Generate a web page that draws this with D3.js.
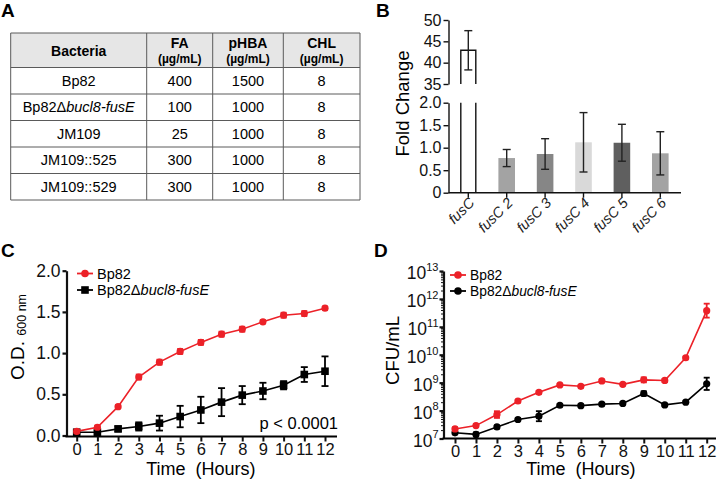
<!DOCTYPE html>
<html>
<head>
<meta charset="utf-8">
<script src="https://cdn.jsdelivr.net/npm/d3@7"></script>
<style>
body { margin: 0; background: #fff; }
svg { font-family: Arial, "Liberation Sans", Helvetica, sans-serif; }
</style>
</head>
<body>
<svg id="fig" width="717" height="483"></svg>
<script>
// ---- panel A: MIC table ----
const tableCols = ["Bacteria", "FA", "pHBA", "CHL"];
const strains = ["Bp82", "Bp82Δbucl8-fusE", "JM109", "JM109::525", "JM109::529"];
const faMIC = [400, 100, 25, 300, 300];
const phbaMIC = [1500, 1000, 1000, 1000, 1000];
const chlMIC = [8, 8, 8, 8, 8];

// ---- panel B: qRT-PCR fold change ----
const genes = ["fusC", "fusC 2", "fusC 3", "fusC 4", "fusC 5", "fusC 6"];
const foldChange = [42.9, 0.77, 0.86, 1.12, 1.11, 0.875];
const foldErr = [4.6, 0.19, 0.34, 0.66, 0.41, 0.48];

// ---- panel C/D: growth curves ----
const hours = [0, 1, 2, 3, 4, 5, 6, 7, 8, 9, 10, 11, 12];
const odWT = [0.05, 0.10, 0.35, 0.71, 0.89, 1.02, 1.13, 1.23, 1.29, 1.38, 1.46, 1.48, 1.545];
const odWTerr = [0.02, 0.02, 0.02, 0.03, 0.03, 0.03, 0.03, 0.03, 0.03, 0.02, 0.03, 0.03, 0.02];
const odMut = [0.04, 0.04, 0.08, 0.11, 0.15, 0.23, 0.31, 0.405, 0.49, 0.54, 0.61, 0.74, 0.78];
const odMutErr = [0.02, 0.02, 0.03, 0.05, 0.09, 0.13, 0.16, 0.17, 0.11, 0.10, 0.05, 0.09, 0.18];
const cfuWT = [2.2e7, 2.9e7, 7.2e7, 2.2e8, 4.5e8, 8.3e8, 7.4e8, 1.15e9, 8.7e8, 1.26e9, 1.2e9, 7.8e9, 3.8e11];
const cfuWTlogErr = [0.06, 0.04, 0.12, 0.05, 0.05, 0.04, 0.04, 0.05, 0.04, 0.09, 0.06, 0.04, 0.25];
const cfuMut = [1.6e7, 1.4e7, 2.6e7, 4.8e7, 6.3e7, 1.55e8, 1.5e8, 1.7e8, 1.8e8, 4.1e8, 1.6e8, 2.0e8, 9.1e8];
const cfuMutLogErr = [0.04, 0.07, 0.05, 0.04, 0.18, 0.04, 0.04, 0.04, 0.04, 0.08, 0.04, 0.03, 0.22];

const RED = "#ec2128";
const svg = d3.select("#fig");

function panelLetter(t, x, y) {
  svg.append("text").attr("x", x).attr("y", y)
    .attr("font-size", 19).attr("font-weight", "bold").text(t);
}
// Bp82Δbucl8-fusE with italic gene part
function mutantLabel(sel) {
  sel.append("tspan").text("Bp82Δ");
  sel.append("tspan").attr("font-style", "italic").text("bucl8-fusE");
}

// ================= A =================
panelLetter("A", 1, 17);
const colX = [10.7, 146.7, 212.7, 283.3, 360];
const headTop = 33, headBot = 67.5, rowH = 26.5;
const rowY = d3.scaleLinear().domain([0, strains.length]).range([headBot, headBot + rowH * strains.length]);
const gA = svg.append("g");
gA.append("rect").attr("x", colX[0]).attr("y", headTop)
  .attr("width", colX[4] - colX[0]).attr("height", headBot - headTop)
  .attr("fill", "#e6e6e6");
// horizontal rules
const hLines = [headTop].concat(d3.range(strains.length + 1).map(i => rowY(i)));
gA.selectAll(".hl").data(hLines).enter().append("line")
  .attr("x1", colX[0]).attr("x2", colX[4]).attr("y1", d => d).attr("y2", d => d)
  .attr("stroke", "#5a5a5a").attr("stroke-width", 1);
gA.selectAll(".vl").data(colX).enter().append("line")
  .attr("x1", d => d).attr("x2", d => d).attr("y1", headTop).attr("y2", rowY(strains.length))
  .attr("stroke", "#5a5a5a").attr("stroke-width", 1);
const colMid = i => (colX[i] + colX[i + 1]) / 2;
gA.append("text").attr("x", colMid(0)).attr("y", 55.5).attr("text-anchor", "middle")
  .attr("font-size", 14).attr("font-weight", "bold").text(tableCols[0]);
tableCols.slice(1).forEach((c, i) => {
  gA.append("text").attr("x", colMid(i + 1)).attr("y", 47.5).attr("text-anchor", "middle")
    .attr("font-size", 14).attr("font-weight", "bold").text(c);
  gA.append("text").attr("x", colMid(i + 1)).attr("y", 63).attr("text-anchor", "middle")
    .attr("font-size", 12).attr("font-weight", "bold").text("(µg/mL)");
});
strains.forEach((s, i) => {
  const y = rowY(i) + rowH / 2 + 5;
  const t = gA.append("text").attr("x", colMid(0)).attr("y", y).attr("text-anchor", "middle").attr("font-size", 14.5);
  if (s.indexOf("Δ") >= 0) mutantLabel(t); else t.text(s);
  [faMIC[i], phbaMIC[i], chlMIC[i]].forEach((v, j) => {
    gA.append("text").attr("x", colMid(j + 1)).attr("y", y).attr("text-anchor", "middle")
      .attr("font-size", 14.5).text(v);
  });
});

// ================= B =================
panelLetter("B", 376, 17);
const gB = svg.append("g");
const axB = 448.5;
const yUp = d3.scaleLinear().domain([35, 50]).range([84, 20]);
const yLo = d3.scaleLinear().domain([0, 2]).range([192.7, 102.7]);
const xB = d3.scalePoint().domain(genes).range([468.3, 660.3]);
const barW = 16.6;
const barFill = ["#ffffff", "#a3a3a3", "#868686", "#d9d9d9", "#5f5f5f", "#a3a3a3"];

function styleAxis(g, fs, sw) {
  g.selectAll("path,line").attr("stroke", "#111").attr("stroke-width", sw);
  g.selectAll("text").attr("font-size", fs).attr("fill", "#111")
    .attr("font-family", 'Arial, "Liberation Sans", Helvetica, sans-serif');
}
gB.append("g").attr("transform", `translate(${axB},0)`)
  .call(d3.axisLeft(yUp).tickValues([35, 40, 45, 50]).tickSize(5).tickSizeOuter(0).tickPadding(2))
  .call(g => styleAxis(g, 16, 1.4));
gB.append("g").attr("transform", `translate(${axB},0)`)
  .call(d3.axisLeft(yLo).tickValues([0, 0.5, 1, 1.5, 2]).tickSize(5).tickSizeOuter(0).tickPadding(2)
    .tickFormat(d => d === 0 ? "0" : d3.format(".1f")(d)))
  .call(g => styleAxis(g, 16, 1.4));
// x axis
gB.append("line").attr("x1", axB).attr("x2", 681).attr("y1", yLo(0)).attr("y2", yLo(0))
  .attr("stroke", "#111").attr("stroke-width", 1.4);
gB.selectAll(".xt").data(genes).enter().append("line")
  .attr("x1", d => xB(d)).attr("x2", d => xB(d)).attr("y1", yLo(0)).attr("y2", yLo(0) + 5)
  .attr("stroke", "#111").attr("stroke-width", 1.4);
gB.selectAll(".xl").data(genes).enter().append("text")
  .attr("transform", d => `translate(${xB(d) + 7},${yLo(0) + 11}) rotate(-45)`)
  .attr("text-anchor", "end").attr("font-size", 14.5).attr("font-style", "italic")
  .attr("fill", "#222").text(d => d);
gB.append("text").attr("transform", "translate(409,103.5) rotate(-90)")
  .attr("text-anchor", "middle").attr("font-size", 18.5).text("Fold Change");

genes.forEach((gname, i) => {
  const cx = xB(gname), v = foldChange[i], e = foldErr[i];
  if (v > 2) {
    // broken bar: sides in lower segment, top in upper segment
    const x0 = cx - barW / 2 + 0.8, x1 = cx + barW / 2 - 0.8;
    [x0, x1].forEach(x => gB.append("line").attr("x1", x).attr("x2", x)
      .attr("y1", yLo(0)).attr("y2", yLo(2)).attr("stroke", "#111").attr("stroke-width", 1.4));
    gB.append("path")
      .attr("d", `M${x0},${yUp(35)}V${yUp(v)}H${x1}V${yUp(35)}`)
      .attr("fill", "none").attr("stroke", "#111").attr("stroke-width", 1.4);
    gB.append("line").attr("x1", cx).attr("x2", cx).attr("y1", yUp(v - e)).attr("y2", yUp(v + e))
      .attr("stroke", "#222").attr("stroke-width", 1.4);
    [v - e, v + e].forEach(t => gB.append("line").attr("x1", cx - 4).attr("x2", cx + 4)
      .attr("y1", yUp(t)).attr("y2", yUp(t)).attr("stroke", "#222").attr("stroke-width", 1.4));
  } else {
    gB.append("rect").attr("x", cx - barW / 2).attr("y", yLo(v))
      .attr("width", barW).attr("height", yLo(0) - yLo(v) - 0.7).attr("fill", barFill[i]);
    gB.append("line").attr("x1", cx).attr("x2", cx).attr("y1", yLo(v - e)).attr("y2", yLo(v + e))
      .attr("stroke", "#222").attr("stroke-width", 1.4);
    [v - e, v + e].forEach(t => gB.append("line").attr("x1", cx - 4).attr("x2", cx + 4)
      .attr("y1", yLo(t)).attr("y2", yLo(t)).attr("stroke", "#222").attr("stroke-width", 1.4));
  }
});

// ================= growth panel helper =================
function errBars(g, x, y, xs, lo, hi, color, cap) {
  xs.forEach((h, i) => {
    g.append("line").attr("x1", x(h)).attr("x2", x(h)).attr("y1", y(lo[i])).attr("y2", y(hi[i]))
      .attr("stroke", color).attr("stroke-width", 1.8);
    [lo[i], hi[i]].forEach(t => g.append("line").attr("x1", x(h) - cap).attr("x2", x(h) + cap)
      .attr("y1", y(t)).attr("y2", y(t)).attr("stroke", color).attr("stroke-width", 1.8));
  });
}
function series(g, x, y, vals, color, shape) {
  g.append("path").datum(vals)
    .attr("d", d3.line().x((d, i) => x(hours[i])).y(d => y(d)))
    .attr("fill", "none").attr("stroke", color).attr("stroke-width", 1.6);
  if (shape === "square") {
    g.selectAll(null).data(vals).enter().append("rect")
      .attr("x", (d, i) => x(hours[i]) - 3.8).attr("y", d => y(d) - 3.8)
      .attr("width", 7.6).attr("height", 7.6).attr("fill", color);
  } else {
    g.selectAll(null).data(vals).enter().append("circle")
      .attr("cx", (d, i) => x(hours[i])).attr("cy", d => y(d)).attr("r", 3.6).attr("fill", color);
  }
}
function legend(g, x, y, color, shape, isMut, fs) {
  g.append("line").attr("x1", x).attr("x2", x + 16).attr("y1", y).attr("y2", y)
    .attr("stroke", color).attr("stroke-width", 1.8);
  if (shape === "square") g.append("rect").attr("x", x + 4.2).attr("y", y - 3.8).attr("width", 7.6).attr("height", 7.6).attr("fill", color);
  else g.append("circle").attr("cx", x + 8).attr("cy", y).attr("r", 3.8).attr("fill", color);
  const t = g.append("text").attr("x", x + 20).attr("y", y + 5).attr("font-size", fs);
  if (isMut) mutantLabel(t); else t.text("Bp82");
}
function timeAxis(g, x, axY, x0, x1) {
  g.append("line").attr("x1", x0).attr("x2", x1).attr("y1", axY).attr("y2", axY)
    .attr("stroke", "#000").attr("stroke-width", 2.2);
  g.append("g").attr("transform", `translate(0,${axY})`)
    .call(d3.axisBottom(x).tickValues(hours).tickSize(5).tickPadding(2).tickFormat(d3.format("d")))
    .call(a => a.select(".domain").remove())
    .call(a => styleAxis(a, 16.5, 2));
  g.append("text").attr("x", (x(0) + x(12)) / 2).attr("y", 475).attr("text-anchor", "middle")
    .attr("font-size", 18).text("Time\u00a0 (Hours)");
}

// ================= C =================
panelLetter("C", 1, 257);
const gC = svg.append("g");
const xC = d3.scaleLinear().domain([0, 12]).range([76.7, 325]);
const yC = d3.scaleLinear().domain([0, 2]).range([435.5, 270.7]);
const axCx = 66.5;
gC.append("g").attr("transform", `translate(${axCx},0)`)
  .call(d3.axisLeft(yC).tickValues([0, 0.5, 1, 1.5, 2]).tickSize(4).tickSizeOuter(0).tickPadding(2)
    .tickFormat(d3.format(".1f")))
  .call(g => styleAxis(g, 17.5, 2.2));
timeAxis(gC, xC, 436.5, axCx - 1, 337);
const odLab = gC.append("text").attr("transform", "translate(24,337) rotate(-90)")
  .attr("text-anchor", "middle");
odLab.append("tspan").attr("font-size", 19).text("O.D. ");
odLab.append("tspan").attr("font-size", 12.5).attr("dy", 2).text("600 nm");
errBars(gC, xC, yC, hours, odMut.map((v, i) => Math.max(0, v - odMutErr[i])), odMut.map((v, i) => v + odMutErr[i]), "#000", 3.5);
series(gC, xC, yC, odMut, "#000", "square");
errBars(gC, xC, yC, hours, odWT.map((v, i) => v - odWTerr[i]), odWT.map((v, i) => v + odWTerr[i]), RED, 3);
series(gC, xC, yC, odWT, RED, "circle");
legend(gC, 77, 273.5, RED, "circle", false, 14.5);
legend(gC, 77, 290, "#000", "square", true, 14.5);
gC.append("text").attr("x", 338).attr("y", 428.5).attr("text-anchor", "end")
  .attr("font-size", 16.5).text("p < 0.0001");

// ================= D =================
panelLetter("D", 374, 257);
const gD = svg.append("g");
const xD = d3.scaleLinear().domain([0, 12]).range([455, 706.7]);
const yD = d3.scaleLog().domain([1e7, 1e13]).range([438.5, 271]);
const axDx = 443.5;
const decades = [1e7, 1e8, 1e9, 1e10, 1e11, 1e12, 1e13];
const minorD = yD.ticks().filter(t => decades.indexOf(t) < 0);
gD.append("g").attr("transform", `translate(${axDx},0)`)
  .call(d3.axisLeft(yD).tickValues(minorD).tickSize(2.5).tickFormat(""))
  .call(g => { g.select(".domain").remove(); styleAxis(g, 17, 1); });
gD.append("g").attr("transform", `translate(${axDx},0)`)
  .call(d3.axisLeft(yD).tickValues(decades).tickSize(4).tickSizeOuter(0).tickPadding(1).tickFormat(""))
  .call(g => styleAxis(g, 17, 2.2))
  .call(g => g.selectAll(".tick text").each(function (d) {
    const t = d3.select(this).attr("dy", "0.45em");
    t.append("tspan").attr("font-size", 17.5).text("10");
    t.append("tspan").attr("font-size", 11).attr("dy", "-0.75em").text(Math.round(Math.log10(d)));
  }));
timeAxis(gD, xD, 438.5, axDx - 1, 716);
gD.append("text").attr("transform", "translate(399,350.5) rotate(-90)")
  .attr("text-anchor", "middle").attr("font-size", 18.5).text("CFU/mL");
errBars(gD, xD, yD, hours, cfuMut.map((v, i) => v / Math.pow(10, cfuMutLogErr[i])), cfuMut.map((v, i) => v * Math.pow(10, cfuMutLogErr[i])), "#000", 3);
series(gD, xD, yD, cfuMut, "#000", "circle");
errBars(gD, xD, yD, hours, cfuWT.map((v, i) => v / Math.pow(10, cfuWTlogErr[i])), cfuWT.map((v, i) => v * Math.pow(10, cfuWTlogErr[i])), RED, 3);
series(gD, xD, yD, cfuWT, RED, "circle");
legend(gD, 450, 275, RED, "circle", false, 13.8);
legend(gD, 450, 291, "#000", "circle", true, 13.8);
</script>
</body>
</html>
